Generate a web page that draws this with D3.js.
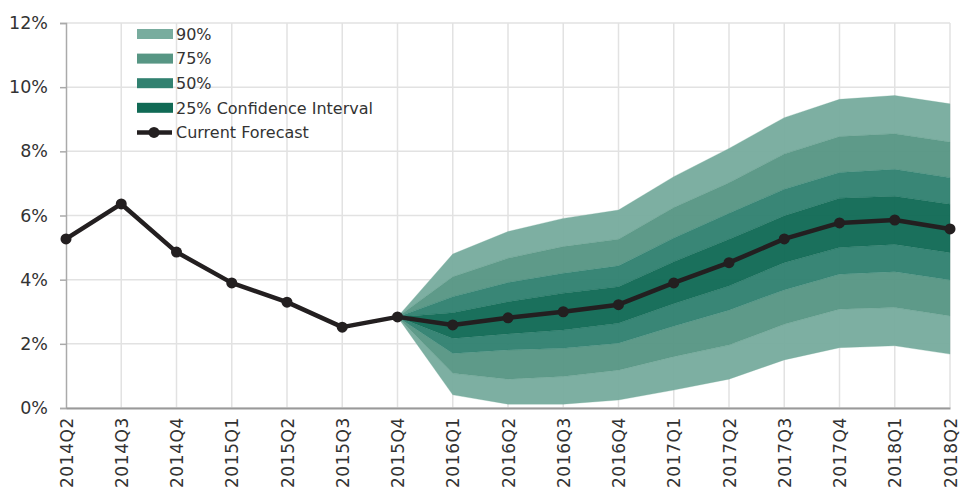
<!DOCTYPE html>
<html><head><meta charset="utf-8">
<script src="https://cdn.jsdelivr.net/npm/d3@7"></script>
<style>body{margin:0;background:#fff}svg{display:block}text{font-family:"DejaVu Sans",sans-serif;fill:#333}</style>
</head><body><svg id="c" width="960" height="495"></svg>
<script>
const quarters = ["2014Q2","2014Q3","2014Q4","2015Q1","2015Q2","2015Q3","2015Q4","2016Q1","2016Q2","2016Q3","2016Q4","2017Q1","2017Q2","2017Q3","2017Q4","2018Q1","2018Q2"];
const forecast = [5.27,6.36,4.86,3.90,3.30,2.52,2.84,2.59,2.81,3.00,3.22,3.90,4.53,5.27,5.77,5.86,5.58];
// fan bands from 2015Q4 onward
const fanQuarters = ["2015Q4","2016Q1","2016Q2","2016Q3","2016Q4","2017Q1","2017Q2","2017Q3","2017Q4","2018Q1","2018Q2"];
const upper90 = [2.84,4.80,5.50,5.91,6.17,7.21,8.09,9.05,9.62,9.74,9.48];
const upper75 = [2.84,4.09,4.67,5.03,5.26,6.25,7.02,7.92,8.46,8.55,8.29];
const upper50 = [2.84,3.47,3.91,4.20,4.43,5.30,6.07,6.82,7.34,7.44,7.18];
const upper25 = [2.84,2.97,3.31,3.58,3.78,4.56,5.26,5.99,6.54,6.60,6.35];
const lower25 = [2.84,2.17,2.31,2.43,2.64,3.25,3.80,4.53,5.00,5.10,4.84];
const lower50 = [2.84,1.70,1.81,1.86,2.02,2.55,3.05,3.68,4.17,4.25,3.99];
const lower75 = [2.84,1.08,0.90,0.98,1.18,1.60,1.96,2.61,3.08,3.13,2.87];
const lower90 = [2.84,0.41,0.12,0.12,0.25,0.56,0.90,1.50,1.88,1.94,1.68];
const yTicks = [0,2,4,6,8,10,12];
const legendLabels = ["90%","75%","50%","25% Confidence Interval","Current Forecast"];
const bandColors = ["#78ac9e","#579684","#318170","#116a55"];

const svg = d3.select("#c");
const x = d3.scalePoint().domain(quarters).range([66,950]).padding(0);
const y = d3.scaleLinear().domain([0,12]).range([408,23]);

// grid
const g = svg.append("g");
g.selectAll(".hg").data(yTicks).join("line")
  .attr("x1",66).attr("x2",950).attr("y1",d=>y(d)).attr("y2",d=>y(d))
  .attr("stroke","#e2e2e2").attr("stroke-width",1.5);
g.selectAll(".vg").data(quarters.slice(1)).join("line")
  .attr("x1",d=>x(d)).attr("x2",d=>x(d)).attr("y1",y(12)).attr("y2",y(0))
  .attr("stroke","#e2e2e2").attr("stroke-width",1.5);

// bands (non-overlapping pieces)
const fan = fanQuarters.map((q,i)=>({q,u90:upper90[i],u75:upper75[i],u50:upper50[i],u25:upper25[i],l25:lower25[i],l50:lower50[i],l75:lower75[i],l90:lower90[i]}));
const ar = (a,b)=>d3.area().x(d=>x(d.q)).y0(d=>y(d[a])).y1(d=>y(d[b]));
const pieces = [
  ["u75","u90",0],["l90","l75",0],
  ["u50","u75",1],["l75","l50",1],
  ["u25","u50",2],["l50","l25",2],
  ["l25","u25",3]
];
svg.append("g").selectAll("path").data(pieces).join("path")
  .attr("d",p=>ar(p[0],p[1])(fan))
  .attr("fill",p=>bandColors[p[2]]).attr("fill-opacity",0.96)
  .attr("stroke",p=>bandColors[p[2]]).attr("stroke-width",0.3);

// axes
const yAxis = d3.axisLeft(y).tickValues(yTicks).tickFormat(d=>d+"%").tickSize(6).tickPadding(12);
const ya = svg.append("g").attr("transform","translate(66,0)").call(yAxis);
ya.select(".domain").attr("stroke","#aaa").attr("stroke-width",1.5);
ya.selectAll(".tick line").attr("stroke","#aaa").attr("stroke-width",1.5);
ya.selectAll("text").style("font-size","17.5px").style("fill","#333");

const xAxis = d3.axisBottom(x).tickSize(0).tickPadding(0);
const xa = svg.append("g").attr("transform","translate(0,408)").call(xAxis);
xa.select(".domain").attr("stroke","#999").attr("stroke-width",2);
xa.selectAll("text").attr("transform","rotate(-90)").attr("text-anchor","end")
  .attr("x",-9).attr("y",0).attr("dy","0.36em")
  .style("font-size","17px").style("letter-spacing","0.6px").style("fill","#333");

// forecast line
const line = d3.line().x((d,i)=>x(quarters[i])).y(d=>y(d));
svg.append("path").datum(forecast).attr("d",line).attr("fill","none")
  .attr("stroke","#231f20").attr("stroke-width",4.5).attr("stroke-linejoin","round");
svg.append("g").selectAll("circle").data(forecast).join("circle")
  .attr("cx",(d,i)=>x(quarters[i])).attr("cy",d=>y(d)).attr("r",5.5).attr("fill","#231f20");

// legend
const lg = svg.append("g");
legendLabels.forEach((lab,i)=>{
  const cy = 34 + i*24.6;
  if(i<4){
    lg.append("rect").attr("x",137).attr("y",cy-5).attr("width",36).attr("height",10).attr("fill",bandColors[i]);
  } else {
    lg.append("line").attr("x1",137).attr("x2",172).attr("y1",cy).attr("y2",cy).attr("stroke","#231f20").attr("stroke-width",4.5);
    lg.append("circle").attr("cx",154).attr("cy",cy).attr("r",5.5).attr("fill","#231f20");
  }
  lg.append("text").attr("x",176).attr("y",cy).attr("dy","0.36em").style("font-size","16px").text(lab);
});
</script></body></html>
